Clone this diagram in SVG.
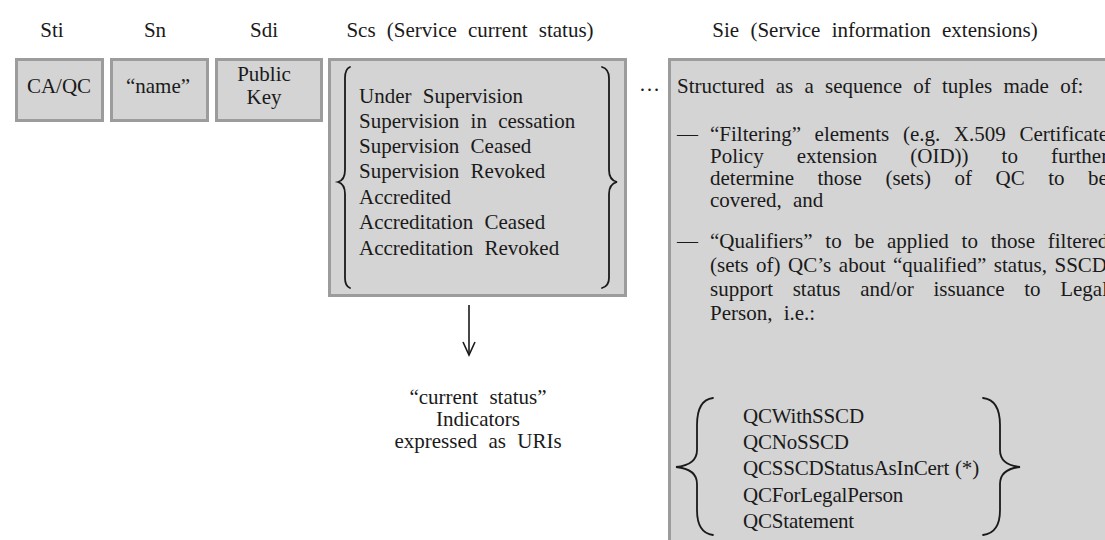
<svg xmlns="http://www.w3.org/2000/svg" width="1105" height="540" viewBox="0 0 1105 540">
  <style>
    text { font-family: "Liberation Serif", "Times New Roman", serif; font-size: 21px; fill: #1a1a1a; word-spacing: 6px; }
    .box { fill: #d4d4d4; stroke: #9c9c9c; stroke-width: 3; }
    .mid { text-anchor: middle; }
    .qc { word-spacing: 1px; letter-spacing: -0.2px; }
    .brace { fill: none; stroke: #1a1a1a; stroke-width: 1.8; stroke-linecap: round; }
    .conn { fill: none; stroke: #1a1a1a; stroke-width: 1.6; }
  </style>
  <rect width="1105" height="540" fill="#ffffff"/>

  <g id="sti">
    <text class="mid" x="52" y="37">Sti</text>
    <rect class="box" x="16.5" y="59.5" width="86" height="61"/>
    <text class="mid" x="59" y="93">CA/QC</text>
  </g>

  <g id="sn">
    <text class="mid" x="155" y="37">Sn</text>
    <rect class="box" x="111.5" y="59.5" width="96" height="61"/>
    <text class="mid" x="158" y="93">“name”</text>
  </g>

  <g id="sdi">
    <text class="mid" x="264" y="37">Sdi</text>
    <rect class="box" x="216.5" y="59.5" width="105" height="61"/>
    <text class="mid" x="264" y="81">Public</text>
    <text class="mid" x="264" y="104">Key</text>
  </g>

  <g id="scs">
    <text class="mid" x="470" y="37">Scs (Service current status)</text>
    <rect class="box" x="329.5" y="59.5" width="296" height="236"/>
    <path class="brace" d="M350,67 Q345,69 345,78 L345,170 Q345,180 338,182 Q345,184 345,194 L345,278 Q345,286 350,288"/>
    <path class="brace" d="M602,67 Q609,69 609,78 L609,170 Q609,180 617,182 Q609,184 609,194 L609,278 Q609,286 602,288"/>
    <text x="359" y="103">Under Supervision</text>
    <text x="359" y="128">Supervision in cessation</text>
    <text x="359" y="153">Supervision Ceased</text>
    <text x="359" y="178">Supervision Revoked</text>
    <text x="359" y="204">Accredited</text>
    <text x="359" y="229">Accreditation Ceased</text>
    <text x="359" y="255">Accreditation Revoked</text>
  </g>

  <g id="ellipsis">
    <text x="639" y="91">…</text>
  </g>

  <g id="sie">
    <text class="mid" x="875" y="37">Sie (Service information extensions)</text>
    <rect class="box" x="669.5" y="59.5" width="450" height="490"/>
    <text x="677" y="93">Structured as a sequence of tuples made of:</text>
    <text x="677" y="141">—</text>
    <text x="710" y="141" style="word-spacing:8.4px">“Filtering” elements (e.g. X.509 Certificate</text>
    <text x="710" y="163" style="word-spacing:27.8px">Policy extension (OID)) to further</text>
    <text x="710" y="185" style="word-spacing:18.3px">determine those (sets) of QC to be</text>
    <text x="710" y="207">covered, and</text>
    <text x="677" y="248">—</text>
    <text x="710" y="248" style="word-spacing:7.5px">“Qualifiers” to be applied to those filtered</text>
    <text x="710" y="272" style="word-spacing:2.3px">(sets of) QC’s about “qualified” status, SSCD</text>
    <text x="710" y="296" style="word-spacing:14.4px">support status and/or issuance to Legal</text>
    <text x="710" y="320">Person, i.e.:</text>
    <path class="brace" d="M713,398 Q697,400 697,425 L697,450 Q697,465 676,467 Q697,469 697,484 L697,510 Q697,533 713,535"/>
    <path class="brace" d="M983,398 Q1000,400 1000,425 L1000,450 Q1000,465 1020,467 Q1000,469 1000,484 L1000,510 Q1000,533 983,535"/>
    <text class="qc" x="743" y="423">QCWithSSCD</text>
    <text class="qc" x="743" y="449">QCNoSSCD</text>
    <text class="qc" x="743" y="475">QCSSCDStatusAsInCert (*)</text>
    <text class="qc" x="743" y="502">QCForLegalPerson</text>
    <text class="qc" x="743" y="528">QCStatement</text>
  </g>

  <g id="status-indicators">
    <text class="mid" x="478" y="404">“current status”</text>
    <text class="mid" x="478" y="426">Indicators</text>
    <text class="mid" x="478" y="448">expressed as URIs</text>
  </g>

  <g id="connectors">
    <line class="conn" x1="469" y1="305" x2="469" y2="354"/>
    <polyline class="conn" points="463,342 469,355 475,342"/>
  </g>
</svg>
